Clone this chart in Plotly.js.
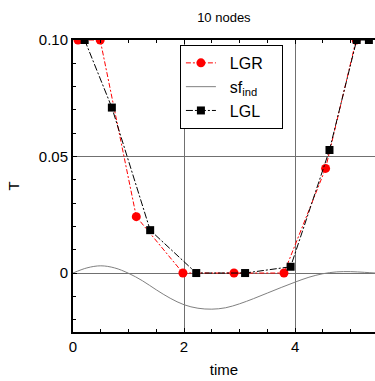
<!DOCTYPE html>
<html>
<head>
<meta charset="utf-8">
<script src="https://cdn.plot.ly/plotly-3.0.1.min.js"></script>
<style>html,body{margin:0;padding:0;background:#fff;}#chart{width:375px;height:381px;}</style>
</head>
<body>
<div id="chart"></div>
<script>
// LGR solution (red circles)
const lgrTime = [0.09, 0.49, 1.14, 1.98, 2.90, 3.80, 4.55, 5.10];
const lgrT    = [0.100, 0.100, 0.0242, 0.0, 0.0, 0.0, 0.0449, 0.100];
// LGL solution (black squares)
const lglTime = [0.21, 0.70, 1.39, 2.22, 3.10, 3.92, 4.62, 5.11, 5.33];
const lglT    = [0.100, 0.0710, 0.0184, 0.0, 0.0, 0.0027, 0.0528, 0.100, 0.100];
// sf_ind curve (gray)
const sfTime = [0, 0.25, 0.5, 0.75, 1.0, 1.25, 1.5, 1.75, 2.0, 2.25, 2.5, 2.75, 3.0, 3.25, 3.5, 3.75, 4.0, 4.25, 4.5, 4.75, 5.0, 5.25, 5.45];
const sfVal  = [0, 0.0022, 0.0031, 0.0022, -0.0001, -0.0033, -0.0072, -0.0108, -0.0136, -0.0151, -0.0155, -0.0149, -0.0132, -0.0110, -0.0086, -0.0062, -0.0039, -0.0018, -0.0003, 0.0005, 0.0006, 0.0003, 0.0];
// axis ticks
const yTickVals = [0, 0.05, 0.10];
const yTickText = ['0', '0.05', '0.10'];
const xTickVals = [0, 2, 4];
const xTickText = ['0', '2', '4'];

const pad = '\u00a0\u00a0';
const tail = '\u00a0\u00a0\u00a0';
const traces = [
  {x: lgrTime, y: lgrT, name: pad + 'LGR' + tail, mode: 'lines+markers',
   line: {color: '#ff0000', width: 1, dash: '5px,2px,2px,2px'},
   marker: {color: '#ff0000', size: 9, symbol: 'circle'}},
  {x: sfTime, y: sfVal, name: pad + 'sf<sub>ind</sub>', mode: 'lines',
   line: {color: '#808080', width: 1, shape: 'spline', smoothing: 1}},
  {x: lglTime, y: lglT, name: pad + 'LGL' + tail, mode: 'lines+markers',
   line: {color: '#000000', width: 1, dash: '7px,2px,2px,2px'},
   marker: {color: '#000000', size: 8, symbol: 'square'}}
];

const layout = {
  width: 375, height: 381,
  margin: {l: 73, r: 0, t: 40, b: 49},
  paper_bgcolor: '#ffffff', plot_bgcolor: '#ffffff',
  font: {family: 'Liberation Sans, Arial, sans-serif', size: 15, color: '#000'},
  title: {text: '10 nodes', font: {size: 13, color: '#000'}, x: 0.597, xanchor: 'center', y: 0.955, yanchor: 'middle'},
  showlegend: true,
  legend: {x: 0.354, y: 0.983, xanchor: 'left', yanchor: 'top',
           bgcolor: '#ffffff', bordercolor: '#000000', borderwidth: 1,
           font: {size: 16, color: '#000'}},
  xaxis: {
    range: [0, 5.44], tickvals: xTickVals, ticktext: xTickText,
    ticks: 'inside', ticklen: 4, tickcolor: '#000',
    showline: true, linewidth: 2, linecolor: '#000', mirror: 'allticks',
    showgrid: true, gridcolor: '#707070', gridwidth: 1, zeroline: false,
    minor: {dtick: 0.5, tick0: 0, ticks: 'inside', ticklen: 3, tickcolor: '#000', showgrid: false},
    title: {text: 'time', font: {size: 15}, standoff: 10},
    tickfont: {size: 15}
  },
  yaxis: {
    range: [-0.0253, 0.1], tickvals: yTickVals, ticktext: yTickText,
    ticks: 'inside', ticklen: 4, tickcolor: '#000',
    showline: true, linewidth: 2, linecolor: '#000',
    showgrid: true, gridcolor: '#707070', gridwidth: 1, zeroline: false,
    minor: {dtick: 0.01, tick0: 0, ticks: 'inside', ticklen: 3, tickcolor: '#000', showgrid: false},
    title: {text: 'T', font: {size: 15}, standoff: 16},
    tickfont: {size: 15}
  }
};

Plotly.newPlot('chart', traces, layout, {displayModeBar: false, staticPlot: true});
</script>
</body>
</html>
